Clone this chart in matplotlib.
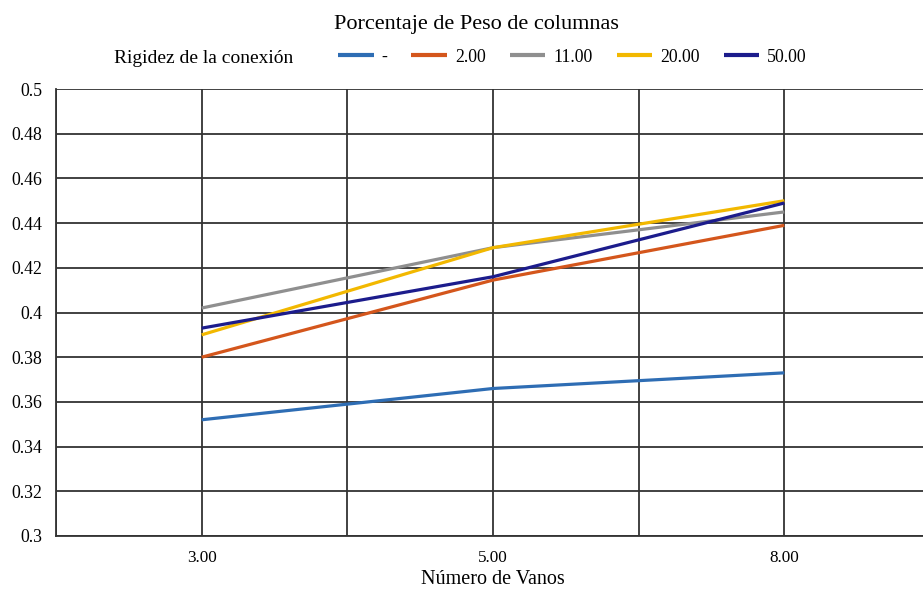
import numpy as np
import matplotlib.pyplot as plt

# Datos
vanos = ["3.00", "5.00", "8.00"]
rigidez = ["-", "2.00", "11.00", "20.00", "50.00"]
serie_sin = [0.352, 0.366, 0.373]
serie_2 = [0.380, 0.4145, 0.439]
serie_11 = [0.402, 0.429, 0.445]
serie_20 = [0.390, 0.429, 0.450]
serie_50 = [0.393, 0.416, 0.449]
series = [serie_sin, serie_2, serie_11, serie_20, serie_50]
colores = ["#2E6DB4", "#D4561C", "#8F8F8F", "#F2B800", "#1C1C8C"]

plt.rcParams['font.family'] = ['Liberation Serif', 'DejaVu Serif']

fig = plt.figure(figsize=(9.23, 5.96), dpi=100)
W, H = 923, 596
# area de trazado (se sale un poco por la derecha, como en el original)
ax = fig.add_axes([56/W, (H-536)/H, (930-56)/W, (536-89)/H])

x = np.arange(len(vanos))
for i in range(len(series)):
    ax.plot(x, series[i], color=colores[i], lw=2.3, label=rigidez[i],
            solid_capstyle='butt', zorder=3)

ax.set_xlim(-0.5, 2.5)
ax.set_ylim(0.3, 0.5)
ax.set_xticks(x)
ax.set_xticklabels(vanos, fontsize=12.3)
ax.set_xticks(np.arange(-0.5, 2.6, 0.5), minor=True)
ax.set_yticks(np.arange(0.3, 0.501, 0.02))
ax.set_yticklabels(["0.3", "0.32", "0.34", "0.36", "0.38", "0.4",
                    "0.42", "0.44", "0.46", "0.48", "0.5"], fontsize=12.8)
ax.tick_params(which='both', length=0)
ax.tick_params(axis='x', pad=10)
ax.tick_params(axis='y', pad=10)
ax.grid(which='both', color='#333333', lw=1.3, zorder=1)
for s in ax.spines.values():
    s.set_color('#333333')
    s.set_linewidth(1.3)
ax.spines['top'].set_visible(False)

ax.set_xlabel("Número de Vanos", fontsize=14.5, labelpad=3)
fig.text(476/W, 1-29/H, "Porcentaje de Peso de columnas", ha='center',
         va='baseline', fontsize=16)
fig.text(204/W, 1-63/H, "Rigidez de la conexión", ha='center',
         va='baseline', fontsize=14)
fig.legend(loc='center left', bbox_to_anchor=(338/W, 1-57/H), ncol=5,
           frameon=False, fontsize=12.8, handlelength=2.0, handletextpad=0.45,
           columnspacing=1.35, borderpad=0, borderaxespad=0)
for lh in fig.legends[0].get_lines():
    lh.set_linewidth(3)

plt.savefig("out.png", dpi=100)
